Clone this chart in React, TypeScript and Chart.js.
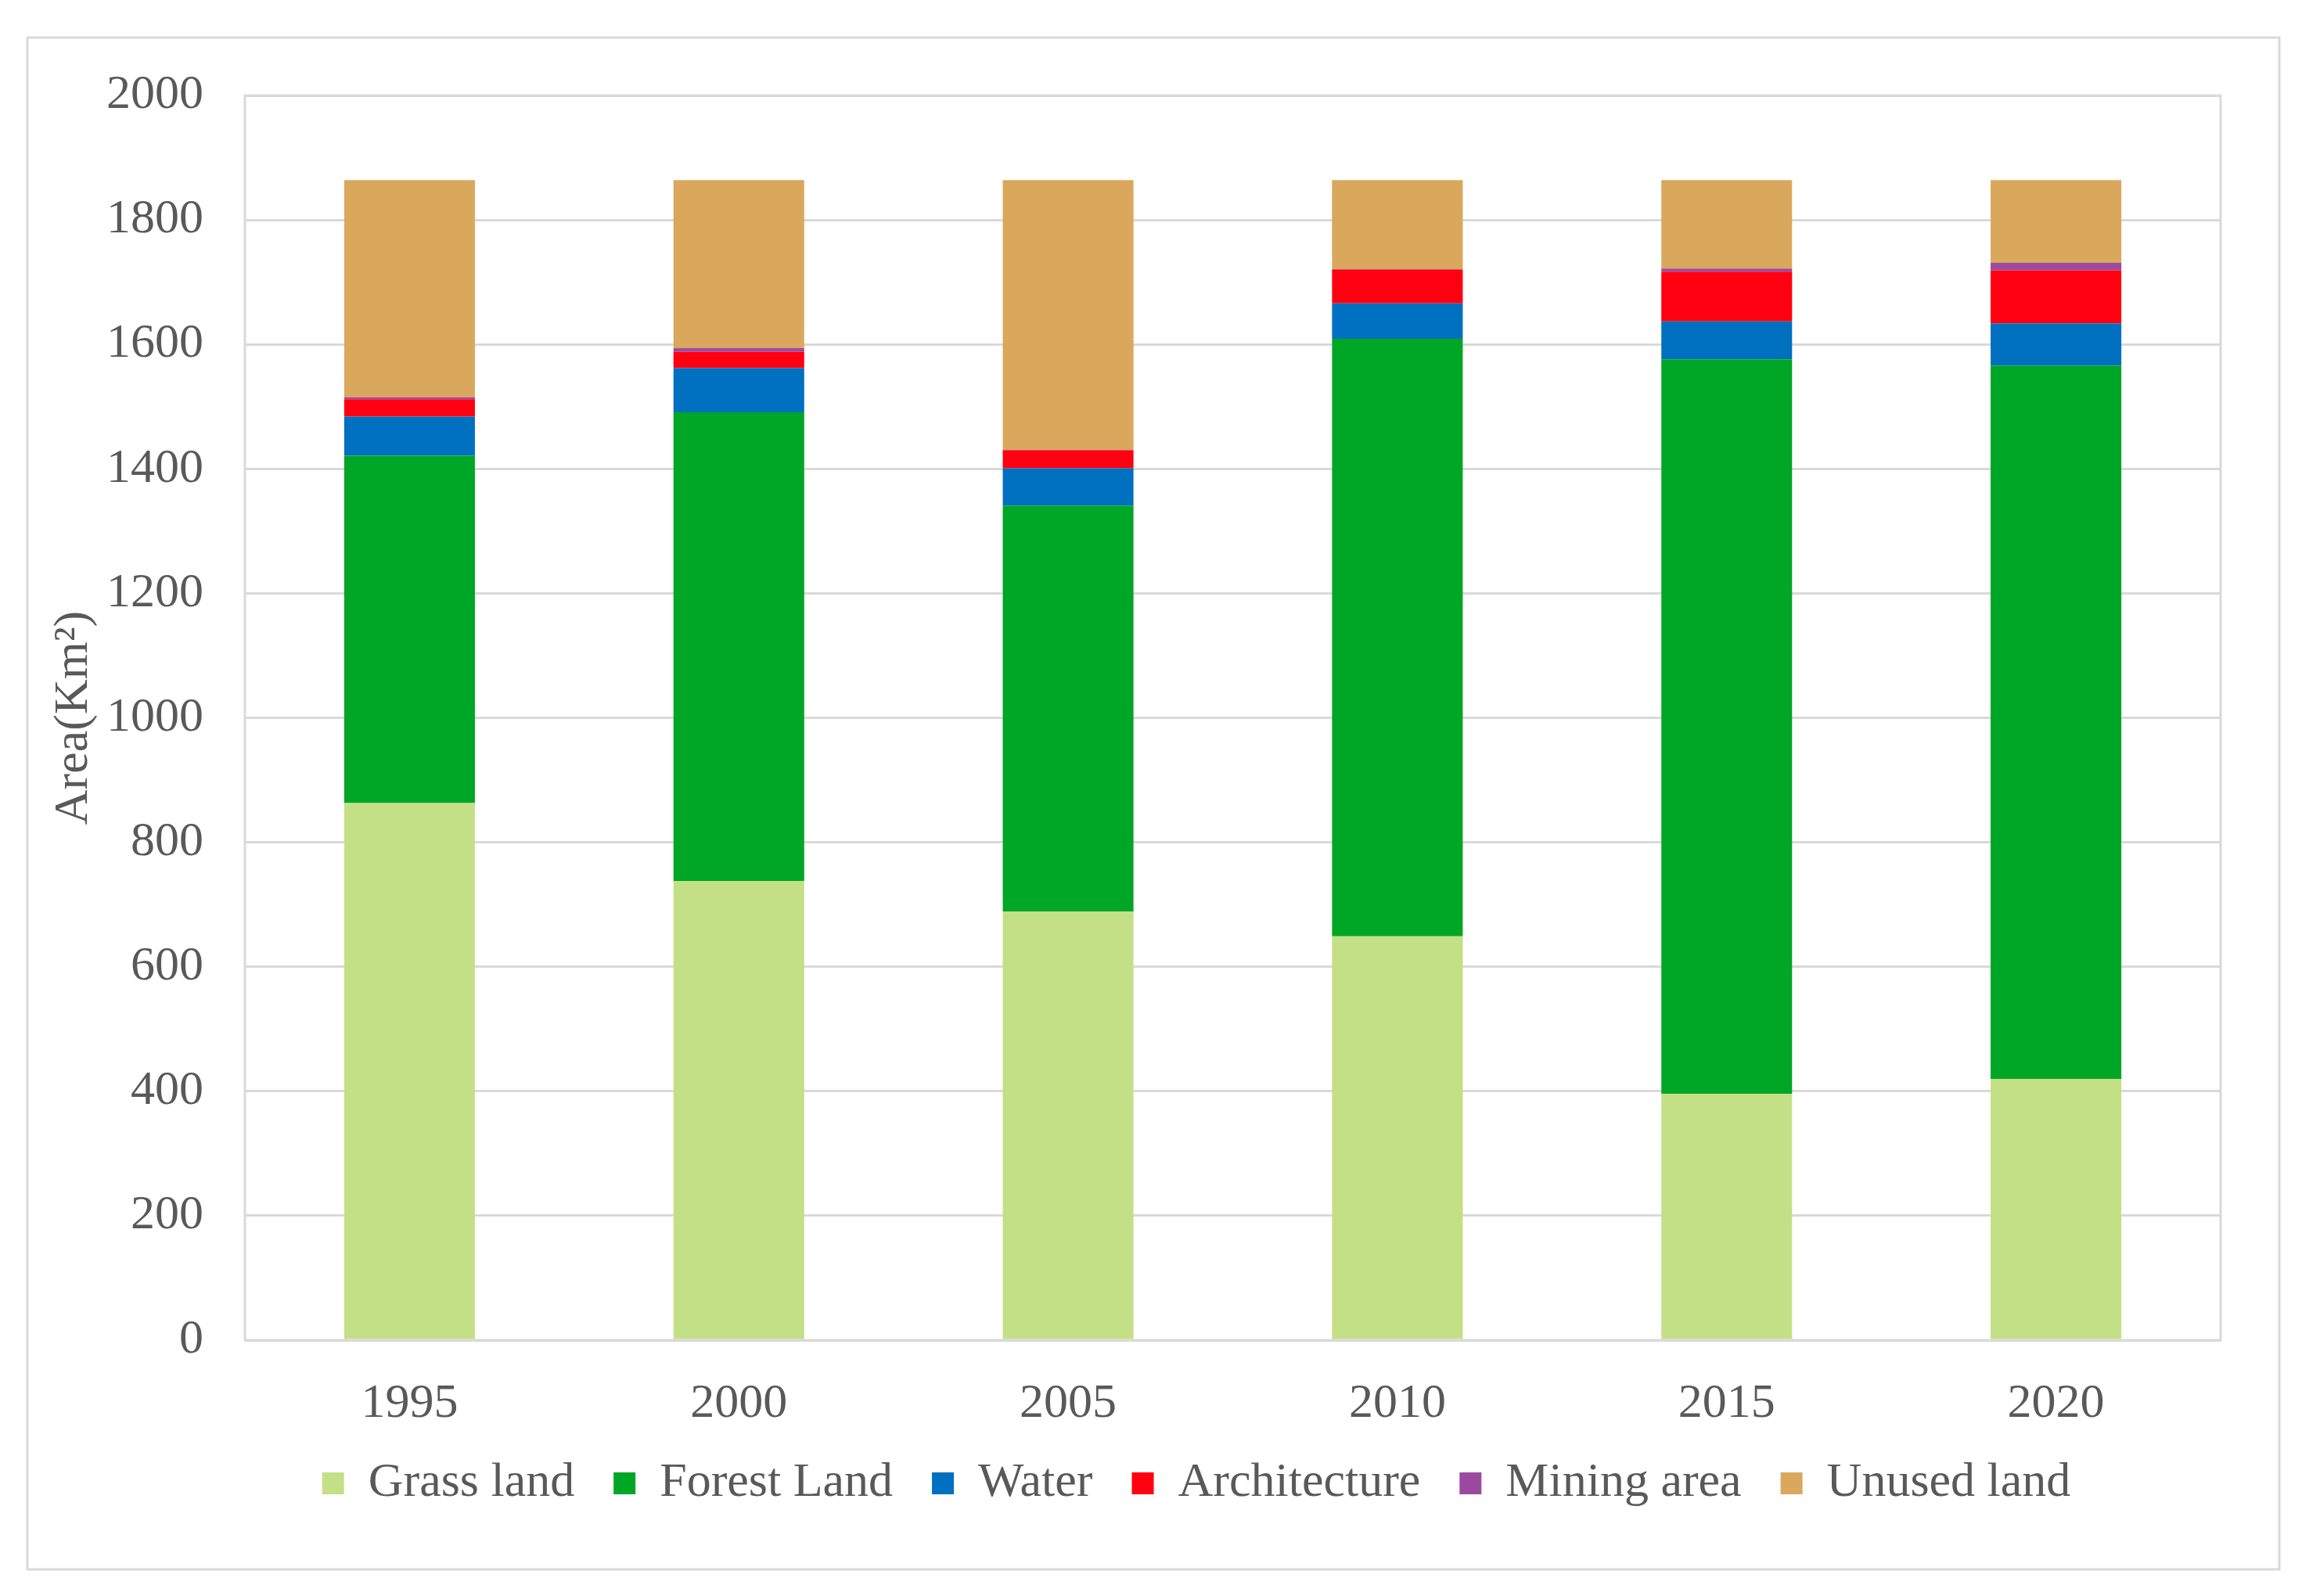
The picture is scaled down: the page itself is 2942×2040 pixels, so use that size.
import React, { useEffect, useRef } from "react";
import { Chart, registerables } from "chart.js";

Chart.register(...registerables);

const years = ["1995", "2000", "2005", "2010", "2015", "2020"];
const grassLand = [863, 738, 689, 649, 396, 420];
const forestLand = [558, 753, 652, 960, 1180, 1146];
const water = [63, 71, 60, 57, 61, 68];
const architecture = [28, 26, 29, 54, 80, 85];
const miningArea = [3, 6, 1, 1, 5, 12];
const unusedLand = [349, 270, 433, 143, 142, 133];

const seriesNames = ["Grass land", "Forest Land", "Water", "Architecture", "Mining area", "Unused land"];
const seriesColors = ["#c4e087", "#00a626", "#0070c0", "#ff0010", "#9b4aa0", "#d9a85c"];

const FONT = '"Liberation Serif", "Times New Roman", serif';
const GRID = "#d9d9d9";

const framePlugin = {
  id: "frames",
  afterLayout(chart: any) {
    if (chart.legend) chart.legend.left += 220;
  },
  beforeDraw(chart: any) {
    const ctx = chart.ctx;
    ctx.save();
    ctx.fillStyle = "#ffffff";
    ctx.fillRect(0, 0, chart.width, chart.height);
    ctx.strokeStyle = GRID;
    ctx.lineWidth = 3;
    ctx.strokeRect(35, 48, 2878, 1958);
    ctx.restore();
  },
  beforeDatasetsDraw(chart: any) {
    const { ctx, chartArea } = chart;
    ctx.save();
    ctx.strokeStyle = GRID;
    ctx.lineWidth = 3;
    ctx.strokeRect(chartArea.left, chartArea.top, chartArea.right - chartArea.left, chartArea.bottom - chartArea.top);
    ctx.restore();
  },
};

export default function App() {
  const ref = useRef<HTMLCanvasElement | null>(null);

  useEffect(() => {
    if (!ref.current) return;
    const values = [grassLand, forestLand, water, architecture, miningArea, unusedLand];
    const chart = new Chart(ref.current, {
      type: "bar",
      data: {
        labels: years,
        datasets: values.map((v, i) => ({
          label: seriesNames[i],
          data: v,
          backgroundColor: seriesColors[i],
          borderWidth: 0,
          barPercentage: 0.397,
          categoryPercentage: 1,
        })),
      },
      options: {
        responsive: false,
        devicePixelRatio: 1,
        animation: false,
        layout: { padding: { left: 0, right: 104, top: 122, bottom: 103 } },
        plugins: {
          tooltip: { enabled: false },
          legend: {
            position: "bottom",
            labels: {
              font: { family: FONT, size: 62 },
              color: "#595959",
              boxWidth: 28,
              boxHeight: 28,
              padding: 50,
            },
          },
        },
        scales: {
          x: {
            stacked: true,
            grid: { display: false, drawTicks: false },
            border: { display: false },
            ticks: { font: { family: FONT, size: 62 }, color: "#595959", padding: 45 },
            afterFit: (scale: any) => {
              scale.height = 102;
            },
          },
          y: {
            stacked: true,
            min: 0,
            max: 2000,
            grid: { color: GRID, lineWidth: 3, drawTicks: false },
            border: { display: false },
            ticks: {
              stepSize: 200,
              font: { family: FONT, size: 62 },
              color: "#595959",
              padding: 53,
              callback: (v: any) => String(v),
            },
            title: {
              display: true,
              text: "Area(Km²)",
              font: { family: FONT, size: 62 },
              color: "#595959",
              padding: { top: 58, bottom: 0 },
            },
            afterFit: (scale: any) => {
              scale.width = 313;
            },
          },
        },
      },
      plugins: [framePlugin],
    });
    return () => chart.destroy();
  }, []);

  return (
    <div style={{ position: "fixed", left: 0, top: 0, width: 2942, height: 2040, background: "#fff" }}>
      <canvas ref={ref} width={2942} height={2040} style={{ width: 2942, height: 2040, display: "block" }} />
    </div>
  );
}
